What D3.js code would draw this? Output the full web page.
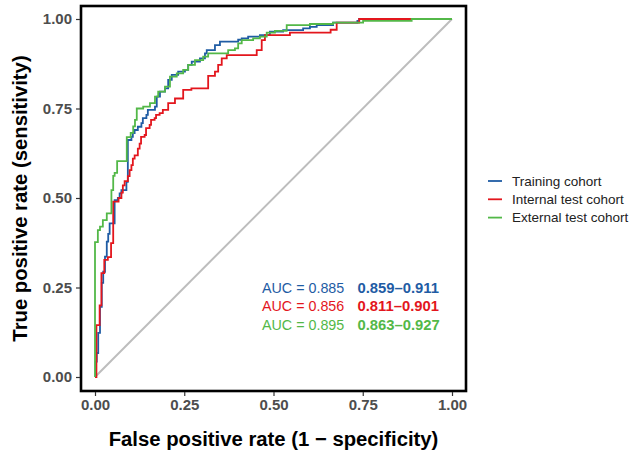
<!DOCTYPE html>
<html><head><meta charset="utf-8">
<script src="https://cdn.jsdelivr.net/npm/d3@7"></script>
<style>body{margin:0;background:#fff}svg{display:block;font-family:"Liberation Sans",Arial,sans-serif}</style>
</head><body>
<svg id="c" width="633" height="456"></svg>
<script>
const seriesNames = ["Training cohort","Internal test cohort","External test cohort"];
const seriesColors = ["#1f5ca4","#e3161d","#53b848"];
const aucLabels = ["AUC = 0.885","AUC = 0.856","AUC = 0.895"];
const ciLabels = ["0.859\u20130.911","0.811\u20130.901","0.863\u20130.927"];
const xTicks = [0,0.25,0.5,0.75,1];
const yTicks = [0,0.25,0.5,0.75,1];

const trainingFpr = [0,0.002,0.005,0.009,0.014,0.019,0.023,0.028,0.033,0.037,0.041,0.055,0.064,0.069,0.074,0.088,0.092,0.102,0.106,0.111,0.12,0.13,0.134,0.144,0.148,0.168,0.173,0.182,0.196,0.205,0.215,0.233,0.252,0.261,0.271,0.294,0.308,0.313,0.336,0.35,0.401,0.411,0.429,0.462,0.49,0.527,0.583,0.602,0.621,0.667,0.735,0.74,1];
const trainingTpr = [0,0.043,0.067,0.123,0.196,0.263,0.294,0.336,0.378,0.40,0.429,0.494,0.50,0.513,0.522,0.545,0.662,0.671,0.681,0.69,0.699,0.709,0.723,0.732,0.746,0.755,0.783,0.797,0.806,0.83,0.844,0.853,0.858,0.872,0.881,0.89,0.904,0.913,0.927,0.937,0.942,0.946,0.951,0.955,0.965,0.969,0.974,0.978,0.983,0.99,0.995,1,1];

const internalFpr = [0,0.004,0.013,0.018,0.026,0.036,0.045,0.051,0.066,0.074,0.078,0.083,0.092,0.097,0.102,0.106,0.111,0.12,0.125,0.129,0.139,0.143,0.153,0.157,0.167,0.171,0.181,0.19,0.205,0.224,0.247,0.27,0.317,0.336,0.345,0.355,0.369,0.453,0.467,0.476,0.546,0.66,0.677,0.74,1];
const internalTpr = [0,0.145,0.20,0.29,0.327,0.335,0.374,0.49,0.50,0.515,0.535,0.547,0.561,0.578,0.592,0.61,0.619,0.638,0.652,0.671,0.676,0.695,0.704,0.718,0.723,0.732,0.737,0.746,0.765,0.778,0.802,0.806,0.841,0.853,0.872,0.89,0.899,0.913,0.941,0.955,0.962,0.97,0.99,1,1];

const externalFpr = [0,0,0.008,0.014,0.022,0.033,0.046,0.051,0.055,0.062,0.089,0.1,0.107,0.112,0.117,0.135,0.154,0.168,0.177,0.196,0.21,0.229,0.247,0.261,0.28,0.303,0.317,0.373,0.392,0.401,0.411,0.443,0.462,0.481,0.504,0.537,0.602,0.667,0.751,0.887,1];
const externalTpr = [0,0.377,0.41,0.42,0.438,0.457,0.522,0.562,0.57,0.603,0.67,0.682,0.70,0.718,0.75,0.755,0.765,0.783,0.797,0.811,0.839,0.848,0.858,0.872,0.885,0.895,0.904,0.913,0.918,0.932,0.941,0.946,0.951,0.962,0.967,0.983,0.986,0.99,0.995,1,1];

const curves = [
  d3.zip(trainingFpr, trainingTpr),
  d3.zip(internalFpr, internalTpr),
  d3.zip(externalFpr, externalTpr)
];

const svg = d3.select("#c");
const P = {l:81, r:466, t:6, b:391};
const x = d3.scaleLinear().domain([0,1]).range([95,452]);
const y = d3.scaleLinear().domain([0,1]).range([377,19]);

const tickCol = "#4d4d4d";

// diagonal
svg.append("line")
  .attr("x1", x(0)).attr("y1", y(0)).attr("x2", x(1)).attr("y2", y(1))
  .attr("stroke", "#bdbdbd").attr("stroke-width", 2);

const line = d3.line().x(d=>x(d[0])).y(d=>y(d[1])).curve(d3.curveStepAfter);
curves.forEach((c,i)=>{
  svg.append("path").attr("d", line(c)).attr("fill","none")
    .attr("stroke", seriesColors[i]).attr("stroke-width", 1.8);
});

// panel border
svg.append("rect").attr("x",P.l).attr("y",P.t).attr("width",P.r-P.l).attr("height",P.b-P.t)
  .attr("fill","none").attr("stroke","#000").attr("stroke-width",2.6);

// axes
const xAxis = d3.axisBottom(x).tickValues(xTicks).tickFormat(d3.format(".2f")).tickSize(4).tickPadding(3);
const gx = svg.append("g").attr("transform",`translate(0,${P.b+1})`).call(xAxis);
gx.select(".domain").remove();
gx.selectAll("line").attr("stroke","#333").attr("stroke-width",1.2);
gx.selectAll("text").attr("fill",tickCol).style("font-size","15px").style("font-weight","bold");

const yAxis = d3.axisLeft(y).tickValues(yTicks).tickFormat(d3.format(".2f")).tickSize(4).tickPadding(4);
const gy = svg.append("g").attr("transform",`translate(${P.l-1},0)`).call(yAxis);
gy.select(".domain").remove();
gy.selectAll("line").attr("stroke","#333").attr("stroke-width",1.2);
gy.selectAll("text").attr("fill",tickCol).style("font-size","15px").style("font-weight","bold");

// titles
svg.append("text").attr("x",(P.l+P.r)/2).attr("y",446).attr("text-anchor","middle")
  .style("font-size","20.3px").style("font-weight","bold").attr("fill","#000")
  .text("False positive rate (1 \u2212 specificity)");
svg.append("text").attr("transform",`translate(27,${(P.t+P.b)/2}) rotate(-90)`).attr("text-anchor","middle")
  .style("font-size","20.3px").style("font-weight","bold").attr("fill","#000")
  .text("True positive rate (sensitivity)");

// AUC annotations
aucLabels.forEach((t,i)=>{
  svg.append("text").attr("x",262).attr("y",293+i*18.3).attr("fill",seriesColors[i])
    .style("font-size","14.3px").text(t);
  svg.append("text").attr("x",357.5).attr("y",293+i*18.3).attr("fill",seriesColors[i])
    .style("font-size","14.8px").style("font-weight","bold").text(ciLabels[i]);
});

// legend
seriesNames.forEach((n,i)=>{
  const yy = 181+i*18.3;
  svg.append("line").attr("x1",488).attr("x2",502).attr("y1",yy).attr("y2",yy)
    .attr("stroke",seriesColors[i]).attr("stroke-width",1.8);
  svg.append("text").attr("x",512).attr("y",yy+4.8).attr("fill","#222")
    .style("font-size","13.5px").text(n);
});
</script>
</body></html>
